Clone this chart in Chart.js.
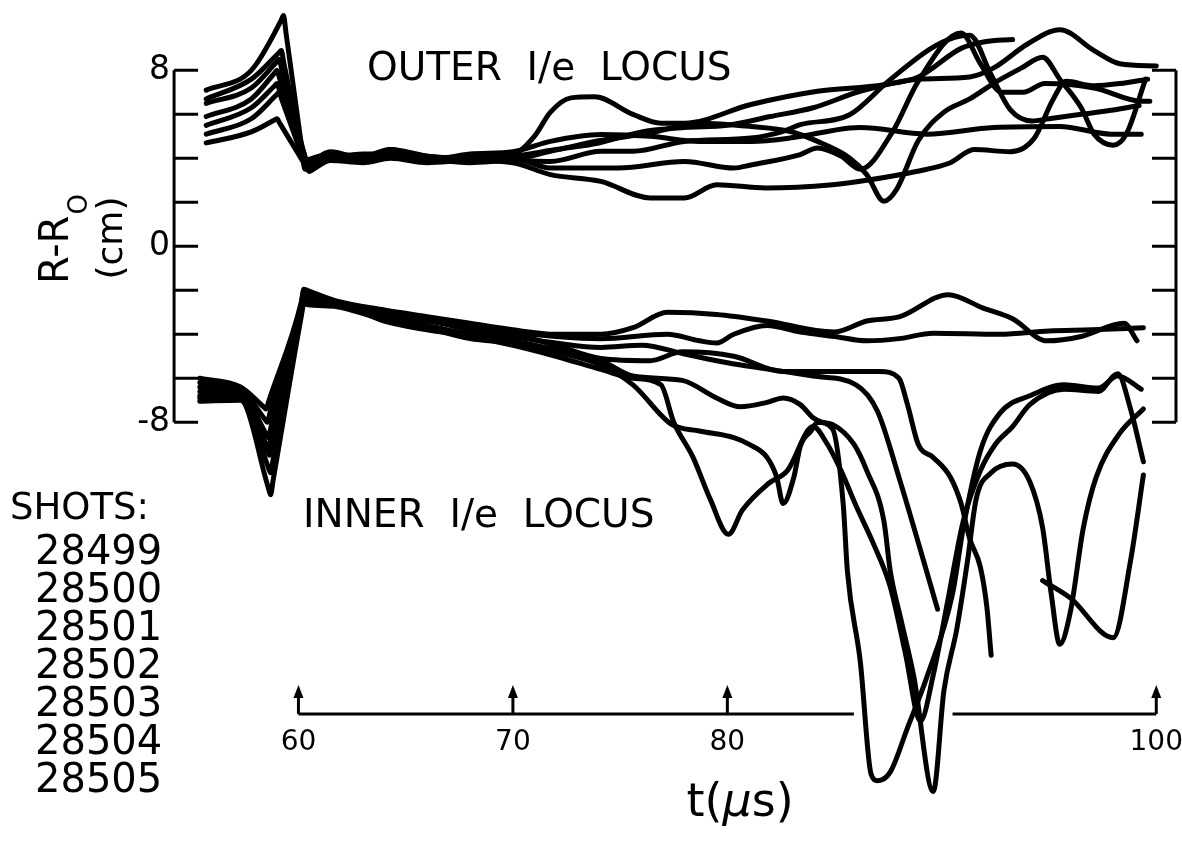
<!DOCTYPE html>
<html>
<head>
<meta charset="utf-8">
<title>Outer / inner 1/e locus</title>
<script src="https://cdn.jsdelivr.net/npm/chart.js@4/dist/chart.umd.min.js"></script>
<style>
  html, body { margin: 0; padding: 0; background: #fff; }
  #wrap { width: 1182px; height: 842px; }
</style>
</head>
<body>
<div id="wrap"><canvas id="locusChart" width="1182" height="842"></canvas></div>
<script>
// ===== DATA =====
const shots = ['28499', '28500', '28501', '28502', '28503', '28504', '28505'];

const yTicks = [8, 6, 4, 2, 0, -2, -4, -6, -8];
const yTickLabels = ['8', '0', '-8'];
const yTickLabelValues = [8, 0, -8];
const xTicks = [60, 70, 80, 100];
const xTickLabels = ['60', '70', '80', '100'];

// frame edges and the t-axis line (in data units)
const frameLeftT = 54.2;
const frameRightT = 100.92;
const timeAxisR = -21.27;
const timeAxisGap = [85.9, 90.5];

// outer 1/e locus, t (us) and R-R0 (cm)
const outerT_28499 = [55.7, 57.8, 59.18, 59.3, 59.42, 60.18, 60.3, 60.42, 61.5, 63, 64.3, 66, 68, 70, 71, 71.75, 72.7, 73.8, 75.6, 76.9, 78, 81.1, 84.2, 87.3, 88.9, 90.9, 92, 93.3];
const outerR_28499 = [7.1, 8.0, 10.25, 10.5, 9.7, 4.3, 3.5, 3.6, 4.3, 4.0, 4.4, 4.0, 4.1, 4.2, 5.0, 6.1, 6.75, 6.8, 6.0, 5.6, 5.6, 6.45, 7.05, 7.35, 7.7, 9.0, 9.3, 9.4];

const outerT_28500 = [55.7, 57.8, 59.08, 59.2, 59.32, 60.18, 60.3, 60.42, 61.5, 63, 64.3, 66, 68, 70, 72, 74, 76, 78, 80, 82, 84, 86.2, 88.9, 91.3, 92.4, 94, 95.5, 97.1, 98.3, 100];
const outerR_28500 = [6.7, 7.6, 8.79, 8.9, 8.32, 4.18, 3.6, 3.66, 4.2, 4.1, 4.4, 4.1, 4.0, 4.1, 4.4, 4.7, 5.2, 5.4, 5.5, 5.9, 6.3, 7.05, 7.6, 7.7, 8.1, 9.2, 9.85, 8.9, 8.3, 8.2];

const outerT_28501 = [55.7, 57.8, 58.98, 59.1, 59.22, 60.28, 60.4, 60.52, 61.5, 63, 64.3, 66, 68, 70, 71.75, 74.9, 78, 80.3, 81.1, 83.4, 84.2, 85.3, 86.2, 87.7, 88.9, 90.9, 91.8, 92.8, 93.8, 94.8, 97.1, 99.3, 99.7];
const outerR_28501 = [6.5, 7.2, 8.38, 8.5, 8.06, 4.14, 3.7, 3.74, 4.1, 3.9, 4.3, 4.0, 3.9, 4.0, 3.56, 3.56, 3.86, 3.56, 3.7, 4.17, 4.47, 4.1, 3.5, 5.2, 7.5, 9.7, 8.3, 7.0, 7.0, 7.4, 7.2, 6.6, 6.6];

const outerT_28502 = [55.7, 57.8, 58.88, 59, 59.12, 60.28, 60.4, 60.52, 61.5, 63, 64.3, 66, 68, 70, 71.75, 74.1, 76.4, 78.7, 81.1, 82.9, 85.7, 86.2, 89.3, 92.4, 95.5, 97.9, 99.3];
const outerR_28502 = [5.9, 6.7, 7.87, 8.0, 7.64, 4.16, 3.8, 3.82, 4.0, 4.2, 4.2, 3.9, 4.2, 4.3, 4.77, 5.08, 5.0, 4.77, 4.77, 4.92, 5.38, 5.4, 5.1, 5.4, 5.45, 5.1, 5.1];

const outerT_28503 = [55.7, 57.8, 58.88, 59, 59.12, 60.18, 60.3, 60.42, 61.5, 63, 64.3, 66, 68, 70, 71.75, 74, 76.4, 78.7, 81.1, 82.9, 84.2, 85.7, 86.5, 87.3, 87.9, 88.9, 90.1, 91.3, 92.4, 93.7, 94.7, 95.5, 96.5, 97.1, 98, 98.6, 99.5];
const outerR_28503 = [5.5, 6.3, 7.29, 7.4, 7.08, 4.22, 3.9, 3.93, 4.2, 4.0, 4.3, 4.1, 4.0, 4.0, 4.32, 4.8, 5.15, 5.6, 5.45, 5.23, 4.77, 4.02, 3.26, 2.05, 2.6, 4.8, 6.1, 6.7, 7.4, 8.1, 8.6, 7.6, 6.3, 5.1, 4.6, 5.1, 7.6];

const outerT_28504 = [55.7, 57.8, 58.98, 59.1, 59.22, 60.28, 60.4, 60.52, 61.5, 63, 64.3, 66, 68, 70, 71.75, 74.1, 75.6, 78, 81.1, 82.6, 83.4, 85.7, 87.5, 89.5, 90.6, 91.3, 92.3, 93.2, 94.2, 95, 96.5, 98, 99.2];
const outerR_28504 = [5.1, 5.8, 6.89, 7.0, 6.68, 3.82, 3.5, 3.58, 4.2, 4.0, 4.2, 4.0, 3.8, 3.9, 3.86, 4.32, 4.32, 4.77, 4.92, 5.23, 5.53, 5.98, 7.5, 9.0, 9.5, 9.6, 7.8, 6.2, 5.7, 5.8, 6.0, 6.2, 6.4];

const outerT_28505 = [55.7, 57.8, 58.88, 59.0, 59.12, 60.38, 60.5, 60.62, 61.5, 63, 64.3, 66, 68, 70, 71.75, 74.1, 76.4, 78, 79.5, 81.8, 84.9, 86.5, 88.8, 90.4, 91.5, 93.2, 94.3, 95.2, 95.8, 97.1, 98.3, 99.6];
const outerR_28505 = [4.7, 5.2, 5.74, 5.8, 5.61, 3.59, 3.4, 3.46, 3.9, 3.8, 4.0, 3.8, 3.9, 3.8, 3.26, 2.95, 2.2, 2.2, 2.8, 2.65, 2.8, 3.0, 3.4, 3.8, 4.4, 4.3, 4.9, 6.7, 7.5, 7.3, 7.4, 7.6];

// inner 1/e locus
const innerT_28499 = [55.4, 57.3, 58.4, 58.5, 58.6, 60.13, 60.25, 60.4, 61.8, 64, 66, 68, 70, 72, 74.1, 75.6, 77.2, 79.5, 81.85, 84.96, 86.5, 88.05, 90.3, 91.9, 93.3, 94.9, 96.5, 98.5, 99.1];
const innerR_28499 = [-6.0, -6.4, -7.32, -7.4, -7.09, -2.55, -1.95, -2.0, -2.5, -2.9, -3.2, -3.5, -3.8, -4.0, -4.0, -3.7, -3.0, -3.1, -3.4, -3.9, -3.4, -3.2, -2.2, -2.8, -3.3, -4.3, -4.1, -3.5, -4.3];

const innerT_28500 = [55.4, 57.3, 58.43, 58.55, 58.67, 60.13, 60.25, 60.4, 61.8, 64, 66, 68, 70, 72, 74.1, 77.2, 78.7, 79.5, 80.3, 81.85, 83.4, 85, 86.5, 88, 89.6, 92.7, 95, 97, 99.4];
const innerR_28500 = [-6.2, -6.5, -7.86, -8.0, -7.58, -2.65, -2.05, -2.1, -2.55, -3.0, -3.3, -3.6, -3.9, -4.1, -4.2, -4.0, -4.3, -4.4, -4.0, -3.6, -3.9, -4.1, -4.3, -4.2, -3.95, -4.0, -3.85, -3.8, -3.7];

const innerT_28501 = [55.4, 57.3, 58.48, 58.6, 58.72, 60.13, 60.25, 60.4, 61.8, 64, 66, 68, 70, 72, 74.1, 76.4, 77.9, 80.3, 82.6, 84.2, 87.1, 88.0, 88.4, 88.9, 89.6, 90.4, 90.9, 91.3, 91.8, 92.1, 92.3];
const innerR_28501 = [-6.4, -6.6, -8.51, -8.7, -8.22, -2.75, -2.15, -2.2, -2.6, -3.0, -3.3, -3.7, -4.0, -4.5, -5.1, -5.2, -4.8, -5.0, -5.7, -5.7, -5.7, -6.0, -7.2, -9.0, -9.6, -10.5, -11.7, -13.3, -14.6, -16.4, -18.6];

const innerT_28502 = [55.4, 57.3, 58.48, 58.6, 58.72, 60.13, 60.25, 60.4, 61.8, 64, 66, 68, 70, 72, 74.1, 75.6, 77.9, 79.5, 80.6, 81.85, 82.6, 83.4, 84.0, 84.4, 84.9, 85.9, 86.5, 87.3, 87.6, 88.1, 88.7, 89.6, 90.1, 90.7, 91.2, 91.6, 92.3, 93.3, 94.1, 94.7, 95.1, 95.5, 96, 96.6, 97.2, 98.3, 99.4];
const innerR_28502 = [-6.6, -6.7, -8.97, -9.2, -8.69, -2.85, -2.25, -2.3, -2.65, -3.1, -3.6, -4.0, -4.3, -4.7, -5.2, -5.9, -6.1, -6.9, -7.3, -7.1, -6.9, -7.2, -7.8, -8.0, -8.1, -9.0, -10.2, -12.5, -14.8, -17.0, -19.6, -24.8, -20.2, -17.4, -14.3, -11.5, -10.3, -9.9, -10.7, -12.8, -15.8, -18.1, -16.6, -12.8, -10.5, -8.5, -7.4];

const innerT_28503 = [55.4, 57.3, 58.53, 58.65, 58.77, 60.13, 60.25, 60.4, 61.8, 64, 66, 68, 70, 72, 74.1, 75.6, 77.4, 78.7, 80.3, 81, 81.85, 82.3, 82.6, 83.1, 83.4, 83.9, 84.2, 84.9, 85.4, 85.6, 86.2, 86.7, 87.0, 87.6, 88.4, 89.3, 90.5, 91.0, 91.8, 92.7, 94.1, 95.7, 97.3, 98.2, 99.3];
const innerR_28503 = [-6.8, -6.8, -9.26, -9.5, -8.96, -2.95, -2.35, -2.4, -2.7, -3.2, -3.7, -4.2, -4.4, -4.8, -5.4, -6.3, -8.1, -8.4, -8.7, -9.0, -9.6, -10.5, -11.7, -10.5, -9.1, -8.4, -8.0, -8.3, -11.7, -14.8, -18.9, -24.0, -24.3, -23.9, -21.9, -19.6, -15.8, -12.8, -9.3, -7.6, -6.8, -6.3, -6.45, -5.9, -6.5];

const innerT_28504 = [55.4, 57.3, 58.58, 58.7, 58.82, 60.13, 60.25, 60.4, 61.8, 64, 66, 68, 70, 72, 74.1, 75.6, 76.9, 77.5, 78.4, 79.2, 80.05, 80.7, 81.9, 82.8, 84.0, 84.6, 85.3, 86, 86.8, 87.6, 88.3, 89.0, 89.6, 90.3, 91, 91.8, 92.5, 93.3, 94.1, 95.7, 97.3, 98.2, 98.8, 99.4];
const innerR_28504 = [-6.9, -6.9, -10.01, -10.3, -9.69, -3.05, -2.45, -2.5, -2.6, -3.4, -3.8, -4.1, -4.5, -5.0, -5.6, -6.0, -6.3, -8.0, -9.6, -11.5, -13.1, -12.0, -10.8, -10.2, -8.2, -8.9, -10.2, -11.8, -13.5, -15.5, -18.5, -21.6, -19.5, -16.0, -12.5, -10.2, -9.0, -8.2, -7.2, -6.5, -6.6, -5.8, -7.4, -9.8];

const innerT_28505 = [55.4, 57.3, 58.58, 58.7, 58.82, 60.13, 60.25, 60.4, 61.8, 64, 66, 68, 70, 72, 74.1, 76, 78, 80, 82, 84, 86, 87, 88, 89, 89.8, 92, 94.7, 96, 98, 98.8, 99.4];
const innerR_28505 = [-7.05, -7.0, -10.93, -11.3, -10.63, -3.2, -2.6, -2.65, -2.75, -3.3, -3.4, -3.8, -4.1, -4.4, -4.6, -4.5, -4.9, -5.3, -5.6, -5.9, -6.3, -7.5, -10.5, -13.8, -16.5, null, -15.2, -16.0, -17.8, -14.3, -10.4];


// ===== BUILD DATASETS =====
function toPoints(ts, rs) {
  return ts.map((t, i) => ({ x: t, y: rs[i] }));
}

function lineSet(label, ts, rs) {
  return {
    label: label,
    data: toPoints(ts, rs),
    borderColor: '#000',
    borderWidth: 5,
    pointRadius: 0,
    fill: false,
    cubicInterpolationMode: 'monotone',
    borderCapStyle: 'round',
    borderJoinStyle: 'round',
    spanGaps: false
  };
}

const datasets = [
  lineSet('outer 28499', outerT_28499, outerR_28499),
  lineSet('outer 28500', outerT_28500, outerR_28500),
  lineSet('outer 28501', outerT_28501, outerR_28501),
  lineSet('outer 28502', outerT_28502, outerR_28502),
  lineSet('outer 28503', outerT_28503, outerR_28503),
  lineSet('outer 28504', outerT_28504, outerR_28504),
  lineSet('outer 28505', outerT_28505, outerR_28505),
  lineSet('inner 28499', innerT_28499, innerR_28499),
  lineSet('inner 28500', innerT_28500, innerR_28500),
  lineSet('inner 28501', innerT_28501, innerR_28501),
  lineSet('inner 28502', innerT_28502, innerR_28502),
  lineSet('inner 28503', innerT_28503, innerR_28503),
  lineSet('inner 28504', innerT_28504, innerR_28504),
  lineSet('inner 28505', innerT_28505, innerR_28505)
];


// ===== FRAME, TIME AXIS AND TEXT =====
const FONT = '"DejaVu Sans", "Liberation Sans", sans-serif';

const frameAndText = {
  id: 'frameAndText',
  afterDraw(chart) {
    const { ctx, scales: { x, y } } = chart;
    ctx.save();
    ctx.strokeStyle = '#000';
    ctx.fillStyle = '#000';
    ctx.lineWidth = 3;

    // left and right frame with inward ticks
    const xl = x.getPixelForValue(frameLeftT);
    const xr = x.getPixelForValue(frameRightT);
    const yTop = y.getPixelForValue(yTicks[0]);
    const yBot = y.getPixelForValue(yTicks[yTicks.length - 1]);
    ctx.beginPath();
    ctx.moveTo(xl, yTop); ctx.lineTo(xl, yBot);
    ctx.moveTo(xr, yTop); ctx.lineTo(xr, yBot);
    yTicks.forEach(v => {
      const py = y.getPixelForValue(v);
      ctx.moveTo(xl, py); ctx.lineTo(xl + 24, py);
      ctx.moveTo(xr, py); ctx.lineTo(xr - 24, py);
    });
    ctx.stroke();

    ctx.font = '33px ' + FONT;
    ctx.textAlign = 'right';
    ctx.textBaseline = 'middle';
    yTickLabelValues.forEach((v, i) => {
      ctx.fillText(yTickLabels[i], xl - 4, y.getPixelForValue(v));
    });

    // time axis with arrow ticks, broken where the traces cross it
    const ya = y.getPixelForValue(timeAxisR);
    ctx.beginPath();
    ctx.moveTo(x.getPixelForValue(xTicks[0]), ya);
    ctx.lineTo(x.getPixelForValue(timeAxisGap[0]), ya);
    ctx.moveTo(x.getPixelForValue(timeAxisGap[1]), ya);
    ctx.lineTo(x.getPixelForValue(xTicks[xTicks.length - 1]), ya);
    xTicks.forEach(v => {
      const px = x.getPixelForValue(v);
      ctx.moveTo(px, ya);
      ctx.lineTo(px, ya - 18);
    });
    ctx.stroke();
    xTicks.forEach(v => {
      const px = x.getPixelForValue(v);
      ctx.beginPath();
      ctx.moveTo(px, ya - 29);
      ctx.lineTo(px - 5, ya - 16);
      ctx.lineTo(px + 5, ya - 16);
      ctx.closePath();
      ctx.fill();
    });

    ctx.font = '28px ' + FONT;
    ctx.textAlign = 'center';
    ctx.textBaseline = 'middle';
    xTicks.forEach((v, i) => {
      ctx.fillText(xTickLabels[i], x.getPixelForValue(v), ya + 29);
    });

    // t(us) title, mu in italic
    ctx.textAlign = 'left';
    ctx.textBaseline = 'alphabetic';
    const partA = 't(', partB = 'µ', partC = 's)';
    ctx.font = '46px ' + FONT;
    const wA = ctx.measureText(partA).width;
    const wC = ctx.measureText(partC).width;
    ctx.font = 'italic 46px ' + FONT;
    const wB = ctx.measureText(partB).width;
    const tx = 740 - (wA + wB + wC) / 2;
    const tyBase = 816;
    ctx.font = '46px ' + FONT;
    ctx.fillText(partA, tx, tyBase);
    ctx.font = 'italic 46px ' + FONT;
    ctx.fillText(partB, tx + wA, tyBase);
    ctx.font = '46px ' + FONT;
    ctx.fillText(partC, tx + wA + wB, tyBase);

    // y title, rotated
    ctx.save();
    ctx.translate(68, 284);
    ctx.rotate(-Math.PI / 2);
    ctx.font = '40px ' + FONT;
    ctx.fillText('R-R', 0, 0);
    const wR = ctx.measureText('R-R').width;
    ctx.font = '26px ' + FONT;
    ctx.fillText('O', wR + 1, 19);
    ctx.restore();

    ctx.save();
    ctx.translate(122, 238);
    ctx.rotate(-Math.PI / 2);
    ctx.font = '36px ' + FONT;
    ctx.textAlign = 'center';
    ctx.fillText('(cm)', 0, 0);
    ctx.restore();

    // locus captions
    ctx.font = '39px ' + FONT;
    ctx.fillText('OUTER  I/e  LOCUS', 367, 80);
    ctx.fillText('INNER  I/e  LOCUS', 303, 527);

    // shot list
    ctx.font = '37px ' + FONT;
    ctx.fillText('SHOTS:', 10, 519);
    ctx.font = '40px ' + FONT;
    shots.forEach((s, i) => {
      ctx.fillText(s, 35, 564 + i * 38);
    });

    ctx.restore();
  }
};


// ===== CHART =====
new Chart(document.getElementById('locusChart'), {
  type: 'line',
  data: { datasets: datasets },
  options: {
    responsive: false,
    devicePixelRatio: 1,
    animation: false,
    layout: { padding: { left: 84, right: 0, top: 0, bottom: 2 } },
    plugins: {
      legend: { display: false },
      tooltip: { enabled: false }
    },
    scales: {
      x: { type: 'linear', min: 50, max: 101.2, display: false },
      y: { type: 'linear', min: -27, max: 11.2, display: false }
    }
  },
  plugins: [frameAndText]
});
</script>
</body>
</html>
